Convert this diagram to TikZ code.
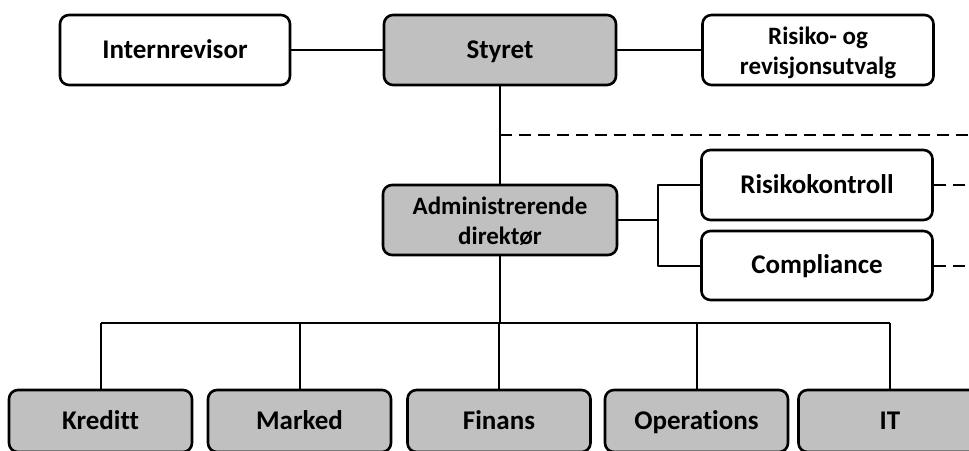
\documentclass[tikz,border=0pt]{standalone}
\usepackage{fontspec}
\setmainfont[Ligatures={NoCommon}]{Carlito}
\usetikzlibrary{positioning}
\definecolor{boxgray}{HTML}{C0C0C0}
\tikzset{
  orgbox/.style={draw,line width=2.6pt,rounded corners=9pt,align=center,
    minimum height=70pt,text height=17pt,text depth=1pt,
    font=\fontsize{27}{30}\selectfont\bfseries},
  smalltext/.style={font=\fontsize{25}{30}\selectfont\bfseries,
    text height=50pt,text depth=2pt},
  grayunit/.style={orgbox,fill=boxgray},
  whiteunit/.style={orgbox,fill=white},
  deptbox/.style={grayunit,minimum width=183pt,minimum height=62pt},
  link/.style={line width=2pt},
  dotted link/.style={line width=2pt,dash pattern=on 12pt off 7pt}
}
\begin{document}
\begin{tikzpicture}[x=1pt,y=-1pt,line join=round]
\useasboundingbox (0,0) rectangle (969,450);
\clip (0,0) rectangle (969,450);

\node[whiteunit,minimum width=230pt] (intrev) at (175,50) {Internrevisor};
\node[grayunit,minimum width=232pt] (styret) at (500,50) {Styret};
\node[whiteunit,smalltext,minimum width=231pt] (utvalg) at (818,50) {Risiko- og\\revisjonsutvalg};
\node[grayunit,smalltext,minimum width=234pt] (admdir) at (500,220) {Administrerende\\direktør};
\node[whiteunit,minimum width=231pt] (risk) at (817,185) {Risikokontroll};
\node[whiteunit,minimum width=231pt,minimum height=69pt] (compl) at (817,265.5) {Compliance};

\node[deptbox] (kreditt) at (100.5,421) {Kreditt};
\node[deptbox] (marked) at (299.5,421) {Marked};
\node[deptbox] (finans) at (499,421) {Finans};
\node[deptbox] (oper) at (696.5,421) {Operations};
\node[deptbox] (it) at (890,421) {IT};

\coordinate (dashL) at (500,135);
\coordinate (dashR) at (969,135);
\coordinate (fork) at (658,220);
\coordinate (bus) at (500,323);

\draw[link] (intrev) -- (styret);
\draw[link] (styret) -- (utvalg);
\draw[link] (styret) -- (admdir);
\draw[dotted link] (dashL) -- (dashR);

\draw[link] (admdir.east) -- (fork);
\draw[link] (risk.west) -| (fork) |- (compl.west);
\draw[dotted link] (risk.east) -- (risk.east -| dashR);
\draw[dotted link] (compl.east) -- (compl.east -| dashR);

\draw[link] (admdir.south) -- (bus);
\draw[link] (kreditt.north |- bus) -- (it.north |- bus);
\foreach \d in {kreditt,marked,finans,oper,it}
  \draw[link] (\d.north) -- (\d.north |- bus);
\end{tikzpicture}
\end{document}
